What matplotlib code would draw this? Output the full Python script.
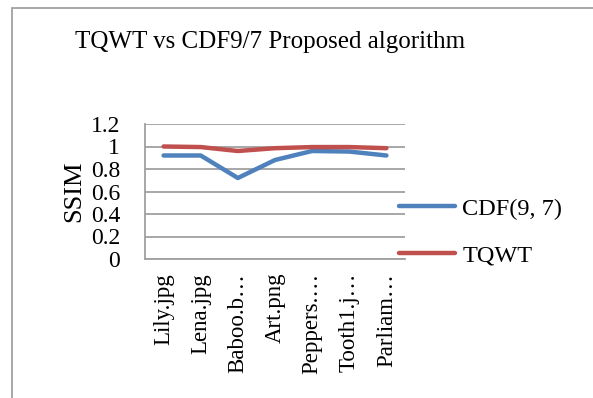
import matplotlib
matplotlib.use("Agg")
import matplotlib.pyplot as plt
from matplotlib.patches import Rectangle

categories = ["Lily.jpg", "Lena.jpg", "Baboo.b…", "Art.png", "Peppers.…", "Tooth1.j…", "Parliam…"]
cdf97 = [0.92, 0.92, 0.72, 0.88, 0.96, 0.955, 0.92]
tqwt = [1.0, 0.995, 0.96, 0.985, 0.995, 0.995, 0.985]
yticks = [0, 0.2, 0.4, 0.6, 0.8, 1, 1.2]
yticklabels = ["0", "0.2", "0.4", "0.6", "0.8", "1", "1.2"]

plt.rcParams['font.family'] = ['Liberation Serif', 'DejaVu Serif']

fig = plt.figure(figsize=(5.93, 3.98), dpi=100)
fig.patches.append(Rectangle((12/593, -0.1), 1.2, 1.1 - 8/398, transform=fig.transFigure,
                             fill=False, edgecolor='#9a9a9a', linewidth=1.2))

ax = fig.add_axes([145/593, 1 - 259/398, 260/593, 135/398])
x = list(range(len(categories)))
ax.plot(x, cdf97, color='#4F81BD', linewidth=3.2, label='CDF(9, 7)', solid_capstyle='round')
ax.plot(x, tqwt, color='#C0504D', linewidth=3.2, label='TQWT', solid_capstyle='round')
ax.set_xlim(-0.5, len(categories) - 0.5)
ax.set_ylim(0, 1.2)
ax.set_yticks(yticks)
ax.set_yticklabels(yticklabels, fontsize=17)
ax.set_xticks(x)
ax.set_xticklabels(categories, rotation=90, fontsize=16.5)
ax.tick_params(axis='y', length=0, pad=18)
ax.tick_params(axis='x', length=0, pad=10)
ax.yaxis.grid(True, color='#a0a0a0', linewidth=1.3)
ax.set_axisbelow(True)
for s in ['top', 'right']:
    ax.spines[s].set_visible(False)
for s in ['left', 'bottom']:
    ax.spines[s].set_color('#a0a0a0')
    ax.spines[s].set_linewidth(1.3)
ax.set_ylabel('SSIM', fontsize=19, labelpad=4)
fig.text(270/593, 1 - 42/398, 'TQWT vs CDF9/7 Proposed algorithm', fontsize=18, ha='center', va='center')
leg = ax.legend(loc='center left', frameon=False, fontsize=17.5,
                handlelength=2.3, handletextpad=0.3, labelspacing=1.0)
leg.set_bbox_to_anchor((377/593, 1 - 232/398), transform=fig.transFigure)
fig.savefig('out.png', dpi=100)
